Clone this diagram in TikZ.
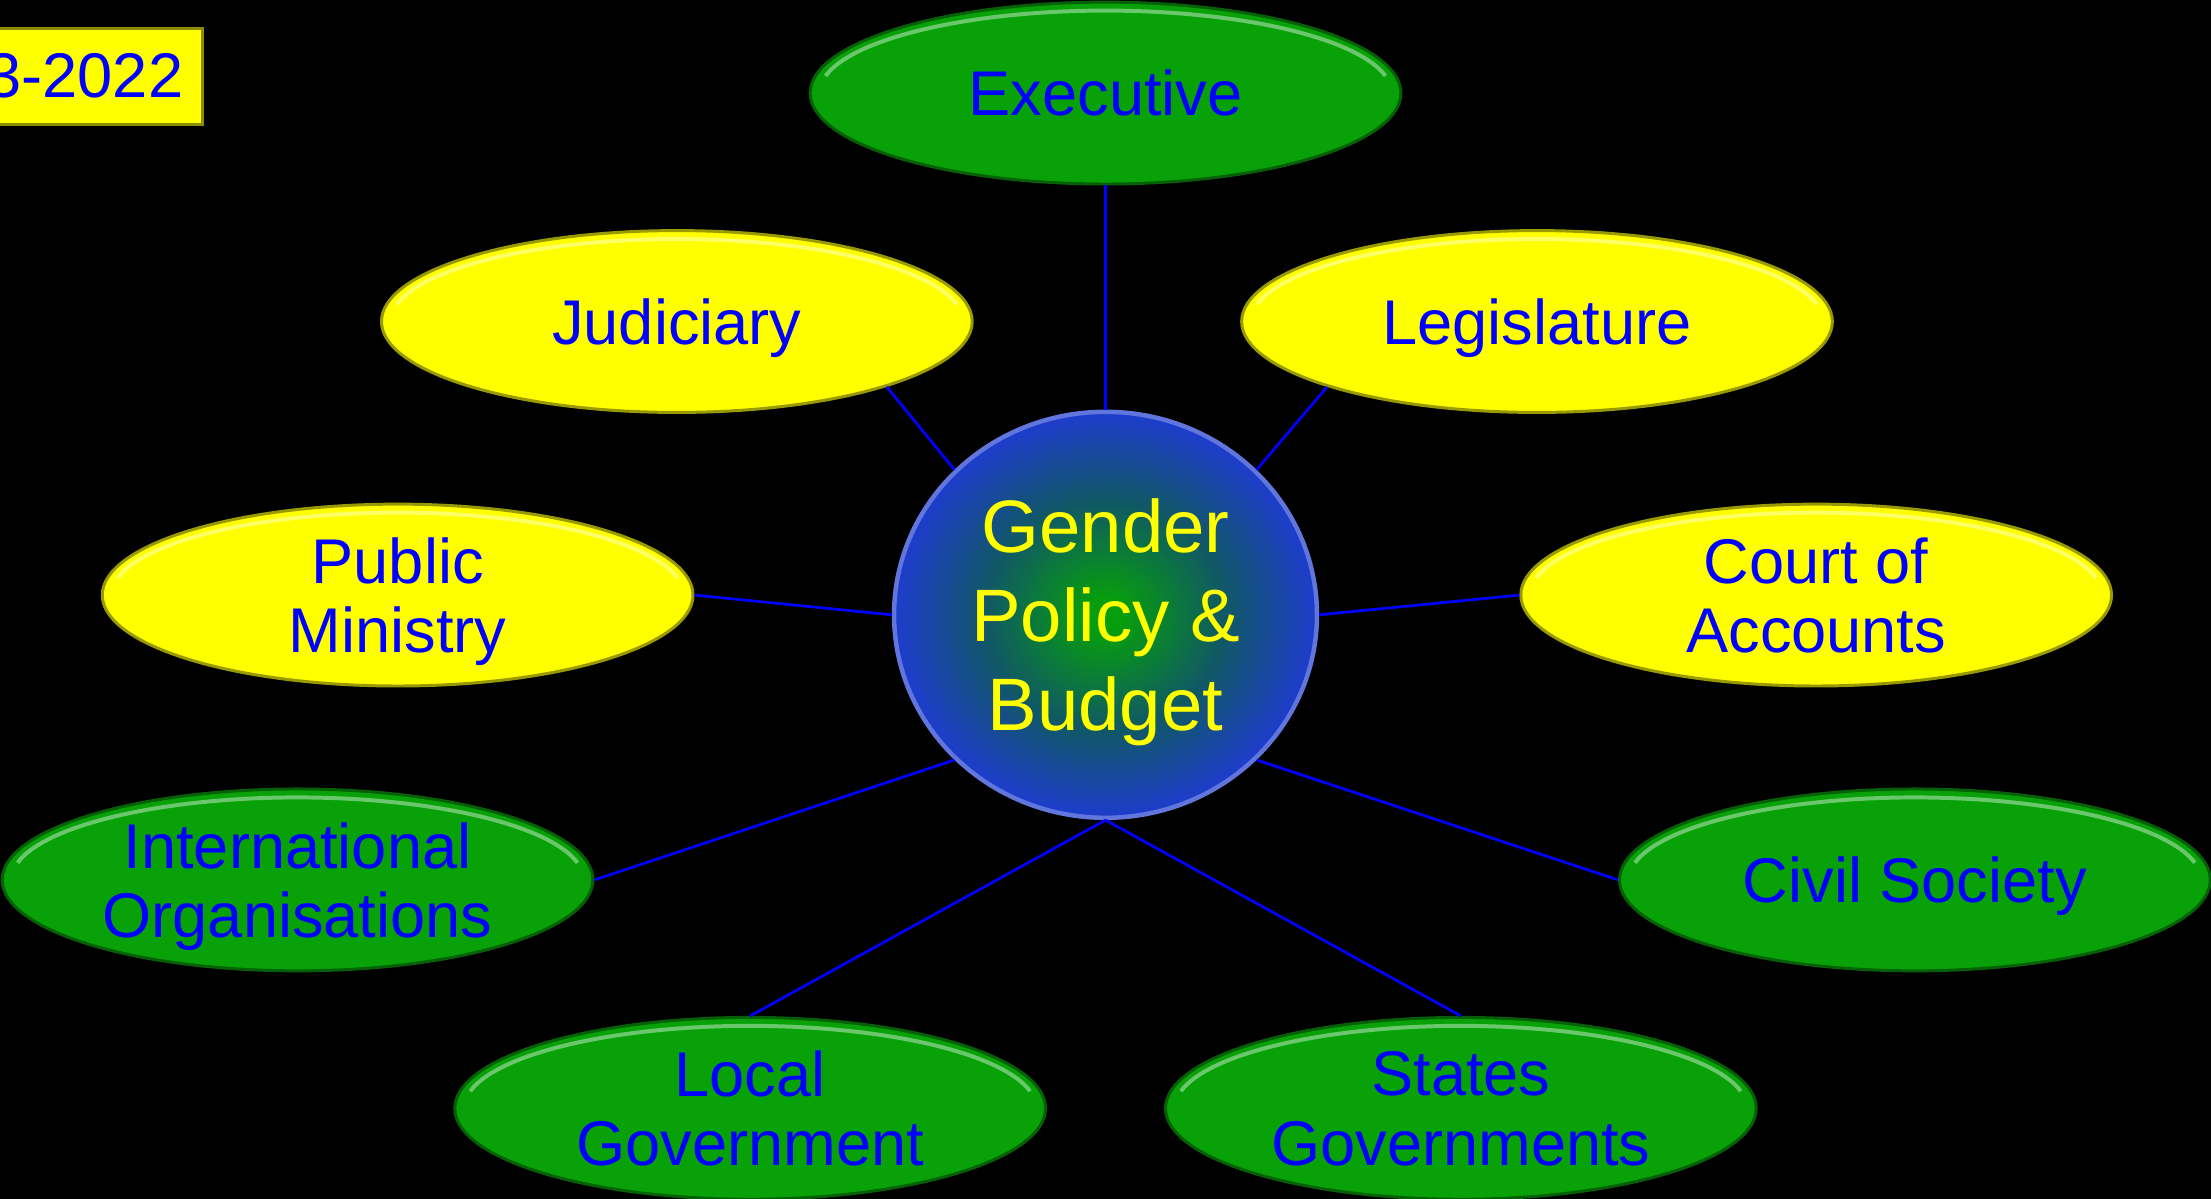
\documentclass[tikz,border=0pt]{standalone}
\usepackage{fontspec}
\setmainfont{Liberation Sans}
\usetikzlibrary{shapes.geometric}
\definecolor{leafgreen}{RGB}{8,162,8}
\definecolor{leafyellow}{RGB}{255,255,0}
\definecolor{hubblue}{RGB}{30,60,205}
\definecolor{hubgreen}{RGB}{6,158,12}
\definecolor{linkblue}{RGB}{0,0,255}
\pgfdeclareradialshading{hubshade}{\pgfpoint{0bp}{0bp}}{color(0bp)=(hubgreen); color(2bp)=(hubgreen); color(14bp)=(hubgreen!45!hubblue!85!black); color(25bp)=(hubblue); color(50bp)=(hubblue)}
\tikzset{
  branch/.style={ellipse, minimum width=8.38cm, minimum height=2.58cm, inner sep=0pt,
    fill=#1, draw=#1!60!black, line width=1.2pt,
    path picture={\draw[#1!60!white, line width=1.6pt]
      ([shift={(168:4.06cm and 1.17cm)}]path picture bounding box.center)
      arc[start angle=168, end angle=12, x radius=4.06cm, y radius=1.17cm];}},
  branchtext/.style={text=linkblue, align=center, text depth=0pt,
    font=\fontsize{25.5}{28}\selectfont},
  hub/.style={ellipse, minimum width=6cm, minimum height=5.76cm, inner sep=0pt,
    shading=hubshade, draw=hubblue!70!white, line width=1.8pt},
  hubtext/.style={text=leafyellow, align=center, text depth=0pt,
    font=\fontsize{30}{36}\selectfont},
  datebox/.style={fill=leafyellow, draw=leafyellow!55!black, line width=1.2pt,
    minimum height=1.36cm, inner xsep=0.28cm, text=linkblue,
    font=\fontsize{25.5}{28}\selectfont},
  link/.style={linkblue, line width=1.1pt},
}
\begin{document}
\begin{tikzpicture}[x=0.02cm,y=-0.02cm]
  \fill[black] (0,0) rectangle (1568,850);
  \useasboundingbox (0,0) rectangle (1568,850);
  \node[datebox, anchor=east] (period) at (145,54) {3-2022};
  \node[branch=leafgreen, label={[branchtext]center:Executive}] (exec) at (784,66) {};
  \node[branch=leafyellow, label={[branchtext]center:Judiciary}] (jud) at (480,228) {};
  \node[branch=leafyellow, label={[branchtext]center:Legislature}] (leg) at (1090,228) {};
  \node[branch=leafyellow, label={[branchtext]center:Public\\Ministry}] (pub) at (282,422) {};
  \node[branch=leafyellow, label={[branchtext]center:Court of\\Accounts}] (court) at (1288,422) {};
  \node[branch=leafgreen, label={[branchtext]center:International\\Organisations}] (intl) at (211,624) {};
  \node[branch=leafgreen, label={[branchtext]center:Civil Society}] (civil) at (1358,624) {};
  \node[branch=leafgreen, label={[branchtext]center:Local\\Government}] (local) at (532,786) {};
  \node[branch=leafgreen, label={[branchtext]center:States\\Governments}] (states) at (1036,786) {};
  \node[hub, label={[hubtext]center:Gender\\Policy \&\\Budget}] (hub) at (784,436) {};
  \draw[link] (exec.south) -- (hub.north);
  \draw[link] (jud.south east) -- (hub.north west);
  \draw[link] (leg.south west) -- (hub.north east);
  \draw[link] (pub.east) -- (hub.west);
  \draw[link] (hub.east) -- (court.west);
  \draw[link] (intl.east) -- (hub.south west);
  \draw[link] (hub.south east) -- (civil.west);
  \draw[link] (local.north) -- (hub.south);
  \draw[link] (hub.south) -- (states.north);
\end{tikzpicture}
\end{document}
